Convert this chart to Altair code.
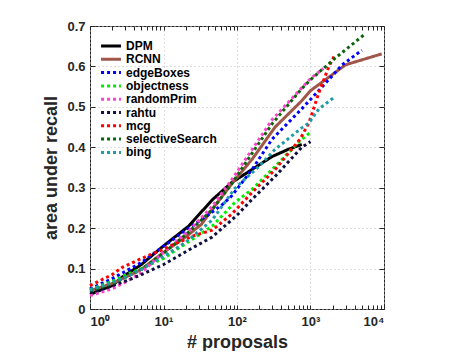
import altair as alt
import pandas as pd

methods = ["DPM", "RCNN", "edgeBoxes", "objectness", "randomPrim", "rahtu", "mcg", "selectiveSearch", "bing"]
colors = ["#000000", "#a0574a", "#0000ff", "#00ee00", "#ff40d0", "#101040", "#ff0000", "#0a650a", "#1f9aa6"]
dashes = [[1, 0], [1, 0], [3, 3], [3, 3], [3, 3], [3, 3], [3, 3], [3, 3], [3, 3]]

dpm_n = [1, 2, 2.75, 5, 10, 22, 46, 85, 160, 300, 500, 760]
dpm_v = [0.036, 0.058, 0.079, 0.11, 0.156, 0.205, 0.27, 0.313, 0.345, 0.377, 0.395, 0.407]

rcnn_n = [1, 2, 3.16, 5, 10, 20, 33, 50, 85, 160, 330, 760, 1000, 3000, 9300]
rcnn_v = [0.045, 0.063, 0.08, 0.098, 0.14, 0.178, 0.21, 0.255, 0.31, 0.37, 0.45, 0.515, 0.54, 0.604, 0.631]

edge_n = [1, 2, 3.16, 5, 10, 20, 40, 63, 85, 160, 300, 760, 1450, 2700, 5000]
edge_v = [0.05, 0.075, 0.095, 0.115, 0.155, 0.195, 0.232, 0.258, 0.28, 0.345, 0.42, 0.495, 0.55, 0.604, 0.64]

obj_n = [1, 2, 3.16, 5, 10, 16, 46, 93, 160, 300, 700, 980]
obj_v = [0.048, 0.068, 0.085, 0.1, 0.125, 0.15, 0.205, 0.263, 0.296, 0.345, 0.414, 0.436]

rp_n = [1, 2, 3.16, 5, 10, 22, 46, 85, 160, 300, 760, 1000, 1500]
rp_v = [0.033, 0.05, 0.068, 0.09, 0.14, 0.193, 0.254, 0.32, 0.394, 0.468, 0.547, 0.57, 0.595]

rahtu_n = [1, 2, 3.16, 5, 10, 27, 46, 100, 160, 330, 760, 1000]
rahtu_v = [0.04, 0.057, 0.07, 0.085, 0.11, 0.155, 0.178, 0.232, 0.271, 0.328, 0.4, 0.414]

mcg_n = [1, 2, 2.75, 5, 10, 24.5, 46, 85, 160, 330, 720, 950, 1300, 1780, 2100]
mcg_v = [0.058, 0.085, 0.103, 0.125, 0.148, 0.18, 0.195, 0.235, 0.288, 0.345, 0.42, 0.46, 0.535, 0.6, 0.625]

ss_n = [1, 2, 3.16, 5, 10, 22, 46, 85, 160, 300, 760, 1000, 2150, 5500]
ss_v = [0.045, 0.062, 0.08, 0.098, 0.138, 0.19, 0.246, 0.31, 0.385, 0.458, 0.545, 0.567, 0.62, 0.68]

bing_n = [1, 2, 3.16, 5, 10, 20, 46, 63, 93, 200, 330, 760, 950, 1300, 2150]
bing_v = [0.047, 0.065, 0.08, 0.098, 0.13, 0.165, 0.22, 0.255, 0.298, 0.353, 0.395, 0.448, 0.46, 0.495, 0.525]

series_n = [dpm_n, rcnn_n, edge_n, obj_n, rp_n, rahtu_n, mcg_n, ss_n, bing_n]
series_v = [dpm_v, rcnn_v, edge_v, obj_v, rp_v, rahtu_v, mcg_v, ss_v, bing_v]

x_major = [1, 10, 100, 1000, 10000]
x_minor = [m * d for d in [1, 10, 100, 1000] for m in range(2, 10)]
y_major = [0, 0.1, 0.2, 0.3, 0.4, 0.5, 0.6, 0.7]

rows = []
for name, ns, vs in zip(methods, series_n, series_v):
    for i, (n, v) in enumerate(zip(ns, vs)):
        rows.append({"method": name, "n": n, "v": v, "i": i})
df = pd.DataFrame(rows)

FONT = "Liberation Sans"

xscale = alt.Scale(type="log", domain=[1, 10000], nice=False)
yscale = alt.Scale(domain=[0, 0.7], nice=False)

label_expr = ("'10' + (datum.value == 1 ? '⁰' : datum.value == 10 ? '¹' : "
              "datum.value == 100 ? '²' : datum.value == 1000 ? '³' : '⁴')")

legend_kw = dict(title=None, orient="none", legendX=15, legendY=14,
                 symbolType="M-3,0L3,0", symbolSize=44, symbolStrokeWidth=3, labelOffset=9,
                 labelFont=FONT, labelFontSize=12, labelFontWeight="bold",
                 labelColor="#000000", rowPadding=1.3, padding=0)

base = alt.Chart(df)

lines = base.mark_line(strokeWidth=3, strokeCap="butt").encode(
    x=alt.X("n:Q", scale=xscale, title="# proposals",
            axis=alt.Axis(values=x_major, labelExpr=label_expr, ticks=False, domain=False,
                          grid=True, gridDash=[1, 3], gridColor="#bdbdbd", labelPadding=6,
                          labelFontSize=13, labelFontWeight="bold", labelFont=FONT,
                          labelColor="#262626", titleFontSize=18, titleFontWeight="bold",
                          titleFont=FONT, titleColor="#262626", titlePadding=5)),
    y=alt.Y("v:Q", scale=yscale, title="area under recall",
            axis=alt.Axis(values=y_major, format=".1~f", ticks=False, domain=False,
                          grid=True, gridDash=[1, 3], gridColor="#bdbdbd", labelPadding=5,
                          labelFontSize=13, labelFontWeight="bold", labelFont=FONT,
                          labelColor="#262626", titleFontSize=18, titleFontWeight="bold",
                          titleFont=FONT, titleColor="#262626", titlePadding=6)),
    color=alt.Color("method:N", scale=alt.Scale(domain=methods, range=colors),
                    legend=alt.Legend(**legend_kw)),
    strokeDash=alt.StrokeDash("method:N", scale=alt.Scale(domain=methods, range=dashes),
                              legend=alt.Legend(**legend_kw)),
    order="i:Q",
)

tick_x_values = x_major + x_minor

inner1 = base.mark_point(opacity=0).encode(
    x=alt.X("n:Q", scale=xscale, title=None,
            axis=alt.Axis(orient="bottom", values=tick_x_values, labels=False, domain=False,
                          grid=False, tickSize=4, offset=-4, tickColor="#262626")),
    y=alt.Y("v:Q", scale=yscale, title=None,
            axis=alt.Axis(orient="left", values=y_major, labels=False, domain=False,
                          grid=False, tickSize=5, offset=-5, tickColor="#262626")),
)

inner2 = base.mark_point(opacity=0).encode(
    x=alt.X("n:Q", scale=xscale, title=None,
            axis=alt.Axis(orient="top", values=tick_x_values, labels=False, domain=False,
                          grid=False, tickSize=4, offset=-4, tickColor="#262626")),
    y=alt.Y("v:Q", scale=yscale, title=None,
            axis=alt.Axis(orient="right", values=y_major, labels=False, domain=False,
                          grid=False, tickSize=5, offset=-5, tickColor="#262626")),
)

chart = alt.layer(lines, inner1, inner2).resolve_axis(
    x="independent", y="independent"
).properties(
    width=294, height=283,
    padding={"left": 34, "top": 12, "right": 5, "bottom": 0},
    background="white",
).configure_view(stroke="#262626", strokeWidth=1)

chart.save("out.html", embed_options={"renderer": "svg", "actions": False})
